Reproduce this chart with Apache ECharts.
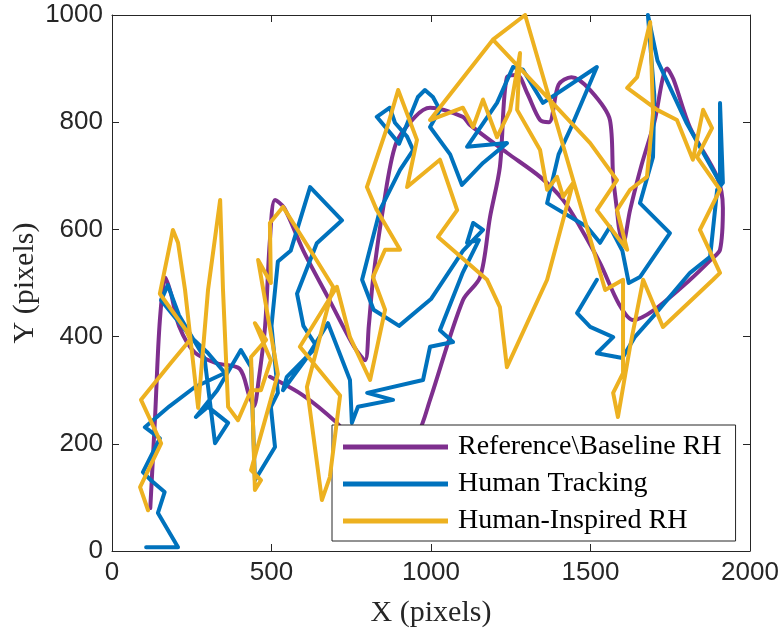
<!DOCTYPE html>
<html>
<head>
<meta charset="utf-8">
<script src="https://cdn.jsdelivr.net/npm/echarts@6/dist/echarts.min.js"></script>
<style>
  html, body { margin: 0; padding: 0; background: #fff; }
  #chart { width: 778px; height: 632px; }
</style>
</head>
<body>
<div id="chart"></div>
<script>
// 轨迹数据 (x, y 像素)
const refPath = [
    [120, 80], [135, 250], [150, 430], [168, 510], [185, 480], [210, 420], [260, 370], [330, 350],
    [400, 340], [430, 290], [445, 270], [460, 320], [480, 420], [495, 580], [511, 655], [540, 640],
    [600, 560], [680, 470], [760, 380], [793, 356], [805, 420], [818, 505], [850, 640], [890, 760],
    [950, 810], [997, 827], [1100, 810], [1122, 795], [1238, 743], [1342, 698], [1414, 655], [1467, 605],
    [1530, 537], [1590, 460], [1633, 431], [1700, 450], [1812, 506], [1880, 545], [1906, 562], [1915, 640],
    [1897, 698], [1812, 790], [1760, 880], [1740, 900], [1700, 800], [1660, 720], [1624, 636], [1602, 575],
    [1590, 600], [1583, 636], [1571, 698], [1561, 804], [1499, 860], [1440, 884], [1400, 870], [1370, 800],
    [1342, 804], [1301, 855], [1270, 888], [1238, 884], [1216, 717], [1185, 623], [1154, 511], [1100, 468],
    [997, 282], [960, 220], [900, 180], [800, 180], [705, 239], [600, 290], [495, 325]
];
const humanPath = [
    [107, 7], [207, 7], [144, 71], [165, 110], [122, 132], [97, 147], [150, 210], [103, 231],
    [180, 270], [260, 306], [354, 332], [300, 370], [248, 399], [154, 468], [175, 496], [210, 440],
    [290, 360], [323, 201], [364, 239], [301, 269], [263, 250], [330, 300], [404, 375], [436, 343],
    [448, 132], [511, 194], [498, 269], [520, 295], [500, 420], [520, 540], [560, 560], [621, 679],
    [721, 617], [642, 574], [580, 480], [600, 420], [642, 381], [548, 325], [536, 300], [610, 360],
    [677, 425], [746, 319], [752, 239], [771, 269], [881, 282], [800, 295], [975, 319], [997, 381],
    [1069, 390], [1028, 412], [1100, 520], [1150, 580], [1113, 575], [1132, 612], [1163, 599], [1100, 560],
    [1000, 470], [900, 420], [820, 450], [784, 506], [840, 636], [903, 711],
    [944, 748], [925, 773], [887, 799], [871, 827], [830, 810], [900, 760], [959, 847], [981, 860],
    [1006, 847], [1028, 823], [997, 791], [1060, 740], [1097, 683], [1163, 724], [1238, 761], [1113, 754],
    [1207, 836], [1257, 903], [1288, 898], [1351, 836], [1520, 903], [1436, 786], [1400, 740], [1364, 649],
    [1489, 605], [1530, 575], [1561, 605], [1600, 560], [1620, 500], [1655, 511], [1749, 593], [1655, 649],
    [1696, 735], [1700, 850], [1680, 1000], [1710, 915], [1800, 800], [1906, 687], [1906, 836], [1915, 687],
    [1897, 674], [1875, 549], [1812, 519], [1700, 440], [1640, 400], [1600, 360], [1520, 369], [1571, 399],
    [1499, 418], [1458, 444], [1520, 506]
];
const inspiredPath = [
    [113, 76], [88, 119], [154, 201], [91, 282], [185, 351], [245, 394], [232, 412], [150, 480],
    [191, 599], [207, 575], [229, 487], [270, 267], [301, 487], [339, 655], [348, 487], [364, 269],
    [395, 244], [436, 300], [467, 300], [498, 356], [448, 425], [483, 394], [436, 362], [448, 114],
    [467, 132], [436, 151], [520, 330], [458, 543], [498, 500], [495, 612], [536, 642], [621, 562],
    [693, 493], [611, 306], [658, 95], [683, 138], [715, 290], [589, 381], [705, 493], [746, 399],
    [809, 319], [856, 450], [818, 511], [856, 562], [903, 562], [830, 636], [799, 679], [865, 795],
    [897, 860], [956, 767], [925, 679], [1028, 730], [1082, 636], [1022, 586], [1176, 506], [1216, 455],
    [1238, 343], [1364, 506], [1445, 686], [1414, 661], [1395, 698], [1364, 674], [1342, 748], [1270, 823],
    [1279, 929], [1248, 822], [1207, 772], [1163, 842], [1132, 791], [1100, 827], [997, 804], [1194, 954],
    [1295, 1000], [1546, 487], [1602, 506], [1602, 332], [1571, 295], [1586, 250], [1624, 381], [1665, 506],
    [1727, 418], [1884, 506], [1906, 519], [1843, 599], [1906, 674], [1834, 735], [1881, 789], [1853, 823],
    [1821, 730], [1771, 804], [1709, 823], [1615, 864], [1646, 884], [1687, 987], [1696, 817], [1677, 698],
    [1624, 674], [1583, 636], [1615, 562], [1520, 636], [1583, 692], [1499, 761], [1351, 855], [1194, 954]
];
const seriesNames = ['Reference\\Baseline RH', 'Human Tracking', 'Human-Inspired RH'];
const seriesColors = ['#7E2F8E', '#0072BD', '#EDB120'];
const xTicks = [0, 500, 1000, 1500, 2000];
const yTicks = [0, 200, 400, 600, 800, 1000];

const chart = echarts.init(document.getElementById('chart'));

const tickFont = { fontFamily: 'Liberation Sans', fontSize: 26, color: '#262626' };
const axisBase = {
    type: 'value',
    axisLine: { show: true, onZero: false, lineStyle: { color: '#262626', width: 1 } },
    axisTick: { show: true, inside: true, length: 7, lineStyle: { color: '#262626' } },
    splitLine: { show: false }
};
const titleFont = { fontFamily: 'Liberation Serif', fontSize: 30, color: '#262626' };

chart.setOption({
    animation: false,
    grid: { left: 112, right: 28, top: 15, bottom: 81, containLabel: false, outerBoundsMode: 'none' },
    xAxis: [
        Object.assign({}, axisBase, {
            min: xTicks[0], max: xTicks[xTicks.length - 1], interval: 500,
            position: 'bottom',
            name: 'X (pixels)', nameLocation: 'middle', nameGap: 47, nameMoveOverlap: false,
            nameTextStyle: titleFont,
            axisLabel: Object.assign({ margin: 9, formatter: (v) => String(v) }, tickFont)
        }),
        Object.assign({}, axisBase, {
            min: xTicks[0], max: xTicks[xTicks.length - 1], interval: 500,
            position: 'top', axisLabel: { show: false }
        })
    ],
    yAxis: [
        Object.assign({}, axisBase, {
            min: yTicks[0], max: yTicks[yTicks.length - 1], interval: 200,
            position: 'left',
            name: 'Y (pixels)', nameLocation: 'middle', nameGap: 72, nameMoveOverlap: false,
            nameTextStyle: titleFont,
            axisLabel: Object.assign({ margin: 9, formatter: (v) => String(v) }, tickFont)
        }),
        Object.assign({}, axisBase, {
            min: yTicks[0], max: yTicks[yTicks.length - 1], interval: 200,
            position: 'right', axisLabel: { show: false }
        })
    ],
    legend: {
        data: seriesNames,
        orient: 'vertical',
        left: 332, top: 425,
        padding: [8, 14, 6, 11],
        itemGap: 9,
        itemWidth: 105, itemHeight: 5,
        icon: 'rect',
        backgroundColor: '#fff',
        borderColor: '#262626', borderWidth: 1,
        textStyle: { fontFamily: 'Liberation Serif', fontSize: 28, color: '#000', padding: [0, 0, 0, 5] }
    },
    series: [refPath, humanPath, inspiredPath].map((path, i) => ({
        name: seriesNames[i],
        type: 'line',
        data: path,
        showSymbol: false,
        smooth: i === 0 ? 0.3 : false,
        color: seriesColors[i],
        lineStyle: { width: 4, color: seriesColors[i], cap: 'round', join: 'round' },
        z: 2 + i
    }))
});
</script>
</body>
</html>
